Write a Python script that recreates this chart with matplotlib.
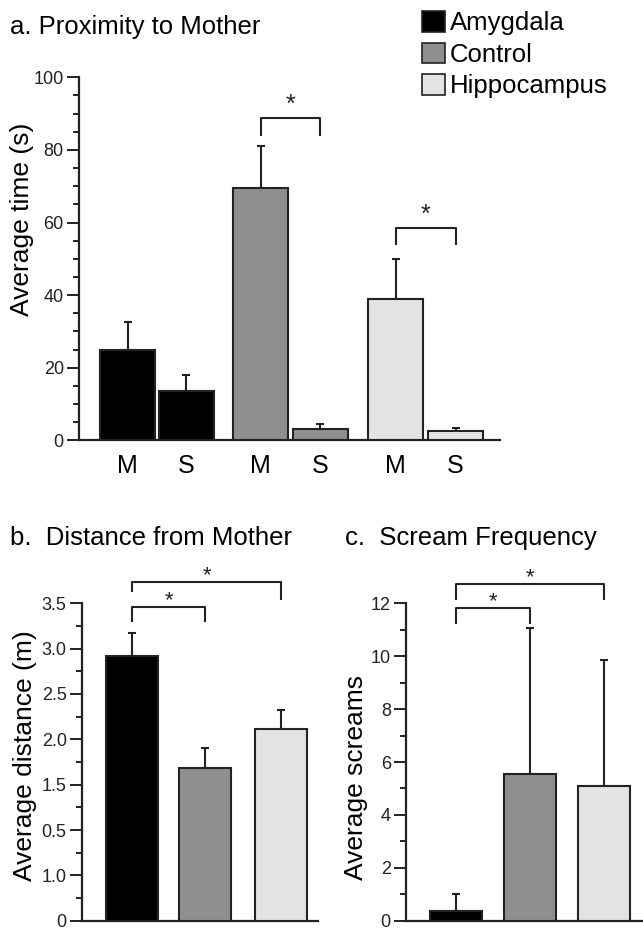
import numpy as np
import matplotlib.pyplot as plt
from matplotlib.patches import Patch
from matplotlib.ticker import MultipleLocator

plt.rcParams['font.family'] = ['Liberation Sans', 'DejaVu Sans']

groups = ['Amygdala', 'Control', 'Hippocampus']
colors = ['#000000', '#8f8f8f', '#e3e3e3']

# a. proximity to mother, M / S per group
prox_labels = ['M', 'S', 'M', 'S', 'M', 'S']
prox_mean = [25.0, 13.5, 69.5, 3.0, 39.0, 2.5]
prox_err = [7.5, 4.5, 11.5, 1.5, 11.0, 0.8]

# b. distance from mother
dist_mean = [2.92, 1.68, 2.11]
dist_err = [0.25, 0.22, 0.21]
dist_ticks = [0, 0.5, 1.0, 1.5, 2.0, 2.5, 3.0, 3.5]
dist_ticklabels = ['0', '1.0', '0.5', '1.5', '2.0', '2.5', '3.0', '3.5']

# c. scream frequency
scream_mean = [0.35, 5.55, 5.1]
scream_err = [0.65, 5.5, 4.75]

fig = plt.figure(figsize=(6.43, 9.31), dpi=100)


def style_axis(ax):
    for s in ['top', 'right']:
        ax.spines[s].set_visible(False)
    for s in ['left', 'bottom']:
        ax.spines[s].set_linewidth(1.6)
        ax.spines[s].set_color('#222222')
    ax.tick_params(axis='y', which='major', length=9, width=1.4, labelsize=13, pad=2, colors='#222222')
    ax.tick_params(axis='y', which='minor', length=4.5, width=1.4, colors='#222222')
    ax.tick_params(axis='x', length=0)


def bracket(ax, x1, x2, ytop, yl, yr, ystar, fs=16):
    ax.plot([x1, x1, x2, x2], [yl, ytop, ytop, yr], color='#222222', lw=1.5, clip_on=False)
    ax.text((x1 + x2) / 2, ystar, '*', ha='center', va='center', fontsize=fs, color='#222222', clip_on=False)


# panel a
ax1 = fig.add_axes([0.123, 0.527, 0.655, 0.39])
xa = np.array([0, 1.07, 2.42, 3.5, 4.87, 5.96])
cols_a = [colors[0], colors[0], colors[1], colors[1], colors[2], colors[2]]
ax1.bar(xa, prox_mean, width=1.0, color=cols_a, edgecolor='#222222', linewidth=1.5, zorder=3)
ax1.errorbar(xa, prox_mean, yerr=[np.zeros(6), prox_err], fmt='none', ecolor='#222222',
             elinewidth=1.5, capsize=3, capthick=1.5, zorder=2)
ax1.set_xlim(-0.88, 6.77)
ax1.set_ylim(0, 100)
ax1.yaxis.set_major_locator(MultipleLocator(20))
ax1.yaxis.set_minor_locator(MultipleLocator(5))
style_axis(ax1)
ax1.set_xticks(xa)
ax1.set_xticklabels(prox_labels, fontsize=18)
ax1.tick_params(axis='x', pad=10)
ax1.set_ylabel('Average time (s)', fontsize=19)
ax1.yaxis.set_label_coords(-0.108, 0.61)
bracket(ax1, xa[2], xa[3], 88.7, 84.1, 84.1, 92.5, fs=18)
bracket(ax1, xa[4], xa[5], 58.5, 54.0, 54.0, 62.0, fs=18)
fig.text(0.015, 0.971, 'a. Proximity to Mother', fontsize=18.5, va='center', ha='left')

handles = [Patch(facecolor=c, edgecolor='#222222', linewidth=1.2) for c in colors]
fig.legend(handles, groups, loc='upper left', bbox_to_anchor=(0.657, 0.988), frameon=False,
           fontsize=18.5, handlelength=0.86, handleheight=0.86, handletextpad=0.2,
           labelspacing=0.28, borderaxespad=0, borderpad=0)

# panel b
ax2 = fig.add_axes([0.1275, 0.011, 0.3675, 0.341])
xb = np.array([0, 1.41, 2.87])
ax2.bar(xb, dist_mean, width=1.0, color=colors, edgecolor='#222222', linewidth=1.5, zorder=3)
ax2.errorbar(xb, dist_mean, yerr=[np.zeros(3), dist_err], fmt='none', ecolor='#222222',
             elinewidth=1.5, capsize=3, capthick=1.5, zorder=2)
ax2.set_xlim(-0.96, 3.58)
ax2.set_ylim(0, 3.5)
ax2.set_yticks(dist_ticks)
ax2.set_yticklabels(dist_ticklabels)
ax2.yaxis.set_minor_locator(MultipleLocator(0.25))
style_axis(ax2)
ax2.set_xticks([])
ax2.set_ylabel('Average distance (m)', fontsize=19)
ax2.yaxis.set_label_coords(-0.19, 0.52)
bracket(ax2, xb[0], xb[1], 3.46, 3.30, 3.30, 3.53)
bracket(ax2, xb[0], xb[2], 3.73, 3.64, 3.55, 3.80)
fig.text(0.015, 0.422, 'b.  Distance from Mother', fontsize=18.5, va='center', ha='left')

# panel c
ax3 = fig.add_axes([0.6315, 0.011, 0.37, 0.341])
xc = np.array([0, 1.41, 2.83])
ax3.bar(xc, scream_mean, width=1.0, color=colors, edgecolor='#222222', linewidth=1.5, zorder=3)
ax3.errorbar(xc, scream_mean, yerr=[np.zeros(3), scream_err], fmt='none', ecolor='#222222',
             elinewidth=1.5, capsize=3, capthick=1.5, zorder=2)
ax3.set_xlim(-0.96, 3.6)
ax3.set_ylim(0, 12)
ax3.yaxis.set_major_locator(MultipleLocator(2))
ax3.yaxis.set_minor_locator(MultipleLocator(1))
style_axis(ax3)
ax3.set_xticks([])
ax3.set_ylabel('Average screams', fontsize=19)
ax3.yaxis.set_label_coords(-0.16, 0.45)
bracket(ax3, xc[0], xc[1], 11.82, 11.27, 11.27, 12.05)
bracket(ax3, xc[0], xc[2], 12.73, 12.18, 12.18, 12.95)
fig.text(0.537, 0.422, 'c.  Scream Frequency', fontsize=18.5, va='center', ha='left')

fig.savefig('out.png', dpi=100)
